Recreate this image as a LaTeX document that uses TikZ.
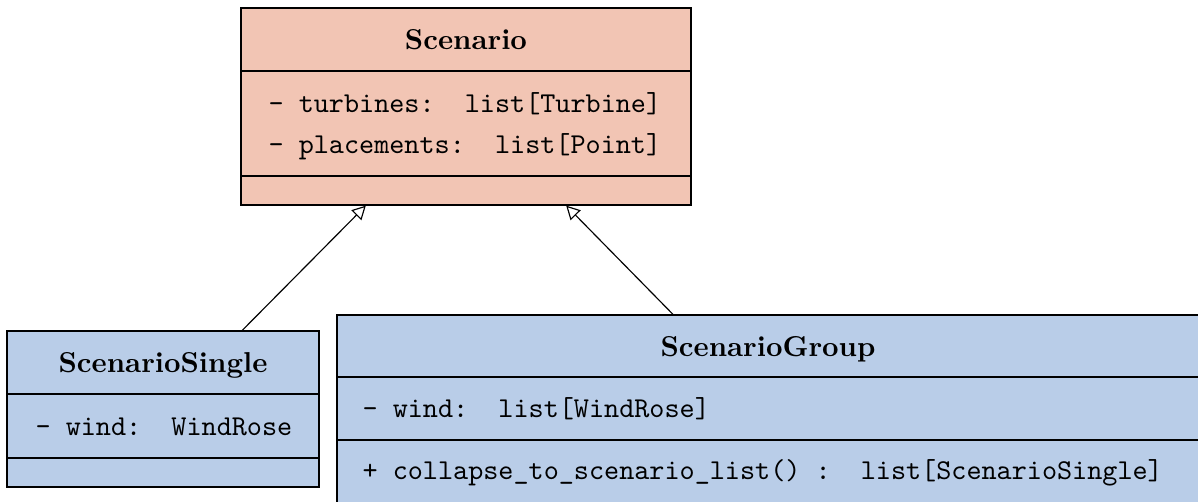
\documentclass[tikz,border=0pt]{standalone}
\usetikzlibrary{arrows.meta,fit,calc}
\definecolor{peach}{RGB}{242,197,180}
\definecolor{steel}{RGB}{185,205,232}
\tikzset{
  umlbox/.style={draw=black, line width=0.45pt, inner sep=0pt, rectangle},
  classname/.style={anchor=base, inner sep=0pt, font=\bfseries},
  member/.style={anchor=base west, inner sep=0pt, font=\ttfamily},
  inherits/.style={draw=black, line width=0.4pt, -{Triangle[open, length=4.7pt, width=4.9pt]}},
}
\begin{document}
\begin{tikzpicture}[x=0.3477pt, y=-0.3477pt]
\useasboundingbox (0,0) rectangle (1198,502);
\clip (0,0) rectangle (1198,502);

% Scenario (base class)
\coordinate (sc-nw) at (241,8);
\coordinate (sc-se) at (691,205);
\node[umlbox, fill=peach, fit=(sc-nw)(sc-se)] (scenario) {};
\draw (scenario.west |- 0,71) -- (scenario.east |- 0,71);
\draw (scenario.west |- 0,176) -- (scenario.east |- 0,176);
\node[classname] (scenario-name) at (466,50) {Scenario};
\node[member] (scenario-a1) at (268,113) {-\ turbines:\ \ list[Turbine]};
\node[member] (scenario-a2) at (268,154) {-\ placements:\ \ list[Point]};

% ScenarioSingle
\coordinate (ss-nw) at (7,331);
\coordinate (ss-se) at (319,487);
\node[umlbox, fill=steel, fit=(ss-nw)(ss-se)] (single) {};
\draw (single.west |- 0,394) -- (single.east |- 0,394);
\draw (single.west |- 0,458) -- (single.east |- 0,458);
\node[classname] (single-name) at (163,373) {ScenarioSingle};
\node[member] (single-a1) at (35,436) {-\ wind:\ \ WindRose};

% ScenarioGroup
\coordinate (sg-nw) at (337,315);
\coordinate (sg-se) at (1201,505);
\node[umlbox, fill=steel, fit=(sg-nw)(sg-se)] (group) {};
\draw (group.west |- 0,377) -- (group.east |- 0,377);
\draw (group.west |- 0,440) -- (group.east |- 0,440);
\node[classname] (group-name) at (768,357) {ScenarioGroup};
\node[member] (group-a1) at (362,418) {-\ wind:\ \ list[WindRose]};
\node[member] (group-m1) at (362,480) {+\ collapse\_to\_scenario\_list()\ :\ \ list[ScenarioSingle]};

% Inheritance connectors
\coordinate (single-top) at ($(single.north west)!0.753!(single.north east)$);
\coordinate (scenario-left) at ($(scenario.south west)!0.278!(scenario.south east)$);
\coordinate (group-top) at ($(group.north west)!0.389!(group.north east)$);
\coordinate (scenario-right) at ($(scenario.south west)!0.722!(scenario.south east)$);
\draw[inherits] (single-top) -- (scenario-left);
\draw[inherits] (group-top) -- (scenario-right);
\end{tikzpicture}
\end{document}
